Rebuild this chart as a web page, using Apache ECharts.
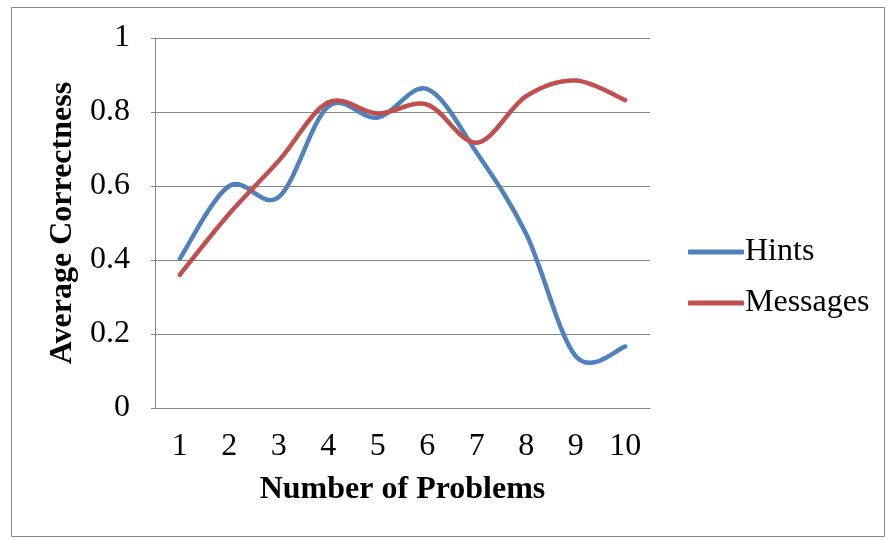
<!DOCTYPE html>
<html>
<head>
<meta charset="utf-8">
<script src="https://cdn.jsdelivr.net/npm/echarts@6/dist/echarts.min.js"></script>
<style>
  html, body { margin: 0; padding: 0; background: #fff; }
  #chart { width: 888px; height: 540px; }
</style>
</head>
<body>
<div id="chart"></div>
<script>
'use strict';
/* average correctness by number of problems */

var problems = ['1', '2', '3', '4', '5', '6', '7', '8', '9', '10'];
var hints = [0.403, 0.6, 0.57, 0.815, 0.785, 0.862, 0.69, 0.47, 0.14, 0.166];
var messages = [0.36, 0.525, 0.668, 0.826, 0.796, 0.82, 0.717, 0.843, 0.885, 0.832];
var yTicks = [0, 0.2, 0.4, 0.6, 0.8, 1];

var font = 'Liberation Serif';
var chart = echarts.init(document.getElementById('chart'));

// excel-like smoothed line (catmull-rom as bezier), points from the axis scales
function smoothItem(values) {
  return function(params, api) {
    if (params.dataIndex !== 0) return null;
    var pts = [];
    for (var i = 0; i < values.length; i++) {
      pts.push(api.coord([i, values[i]]));
    }
    var d = 'M' + pts[0][0] + ' ' + pts[0][1];
    for (var i = 0; i < pts.length - 1; i++) {
      var p0 = pts[i - 1] || pts[i];
      var p1 = pts[i];
      var p2 = pts[i + 1];
      var p3 = pts[i + 2] || pts[i + 1];
      var c1x = p1[0] + (p2[0] - p0[0]) / 6;
      var c1y = p1[1] + (p2[1] - p0[1]) / 6;
      var c2x = p2[0] - (p3[0] - p1[0]) / 6;
      var c2y = p2[1] - (p3[1] - p1[1]) / 6;
      d += ' C' + c1x + ' ' + c1y + ' ' + c2x + ' ' + c2y + ' ' + p2[0] + ' ' + p2[1];
    }
    return {
      type: 'path',
      shape: { pathData: d },
      style: {
        fill: 'none',
        stroke: api.visual('color'),
        lineWidth: 4.5,
        lineCap: 'round',
        lineJoin: 'round'
      }
    };
  };
}

function toData(values) {
  return values.map(function(v, i) { return [i, v]; });
}

var opt = {
  backgroundColor: '#fff',
  animation: false,
  color: ['#4F81BD', '#C0504D'],
  graphic: [{
    type: 'rect',
    shape: { x: 11.5, y: 7.5, width: 873, height: 529 },
    style: { fill: 'none', stroke: '#868686', lineWidth: 1 }
  }],
  grid: {
    left: 155,
    top: 38,
    right: 238,
    bottom: 132
  },
  legend: {
    orient: 'vertical',
    left: 688,
    top: 236,
    padding: 0,
    itemWidth: 56,
    itemHeight: 5,
    itemGap: 19,
    icon: 'roundRect',
    textStyle: { fontFamily: font, fontSize: 32, color: '#000', padding: [0, 0, 0, -4] },
    data: ['Hints', 'Messages']
  },
  xAxis: {
    type: 'category',
    data: problems,
    boundaryGap: true,
    name: 'Number of Problems',
    nameLocation: 'middle',
    nameGap: 66,
    nameTextStyle: { fontFamily: font, fontSize: 32, fontWeight: 'bold', color: '#000' },
    axisLine: { lineStyle: { color: '#868686', width: 1 } },
    axisTick: { show: false },
    axisLabel: { fontFamily: font, fontSize: 32, color: '#000', margin: 23 }
  },
  yAxis: {
    type: 'value',
    min: 0,
    max: 1,
    interval: 0.2,
    name: 'Average Correctness',
    nameLocation: 'middle',
    nameGap: 72,
    nameTextStyle: { fontFamily: font, fontSize: 32, fontWeight: 'bold', color: '#000' },
    axisLine: { show: true, lineStyle: { color: '#868686', width: 1 } },
    axisTick: { show: true, length: 4, lineStyle: { color: '#868686' } },
    splitLine: { lineStyle: { color: '#868686', width: 1 } },
    axisLabel: {
      fontFamily: font, fontSize: 32, color: '#000', margin: 25,
      formatter: function(v) {
        for (var i = 0; i < yTicks.length; i++) {
          if (Math.abs(yTicks[i] - v) < 1e-9) return String(yTicks[i]);
        }
        return '';
      }
    }
  },
  series: [{
    name: 'Hints',
    type: 'custom',
    data: toData(hints),
    encode: { x: 0, y: 1 },
    itemStyle: { color: '#4F81BD' },
    renderItem: smoothItem(hints)
  }, {
    name: 'Messages',
    type: 'custom',
    data: toData(messages),
    encode: { x: 0, y: 1 },
    itemStyle: { color: '#C0504D' },
    renderItem: smoothItem(messages)
  }]
};

chart.setOption(opt);
</script>
</body>
</html>
